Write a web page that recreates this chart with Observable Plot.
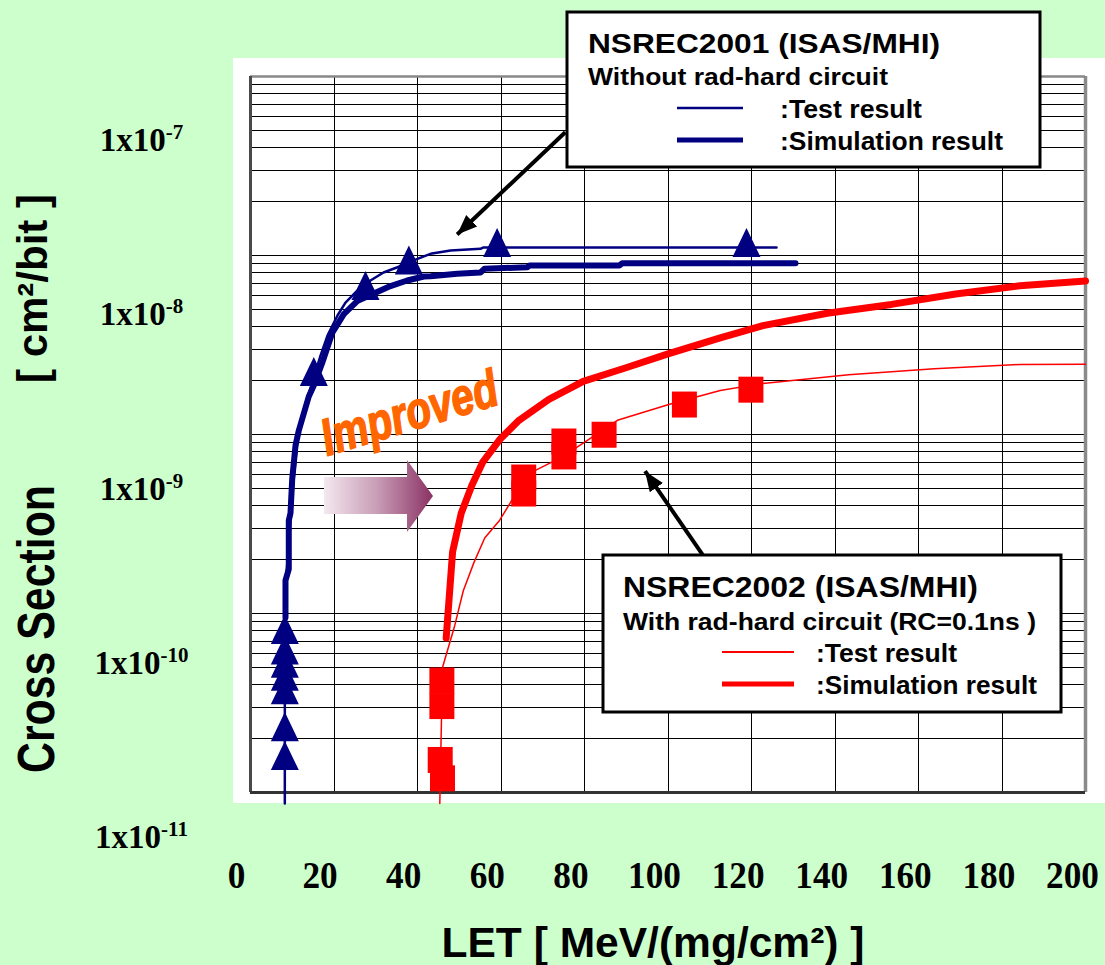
<!DOCTYPE html>
<html>
<head>
<meta charset="utf-8">
<script src="https://cdn.jsdelivr.net/npm/d3@7"></script>
<script src="https://cdn.jsdelivr.net/npm/@observablehq/plot@0.6"></script>
<style>
html, body { margin: 0; padding: 0; background: #ccffcc; }
#wrap { position: relative; width: 1105px; height: 965px; overflow: hidden; background: #ccffcc; }
#panel { position: absolute; left: 233px; top: 58px; width: 872px; height: 745px; background: #ffffff; }
.layer { position: absolute; left: 0; top: 0; }
#decor text { font-family: "Liberation Sans", Arial, sans-serif; font-weight: bold; fill: #000; }
</style>
</head>
<body>
<div id="wrap">
  <div id="panel"></div>
  <div id="chart" class="layer"></div>
  <div id="ticks" class="layer"></div>
  <svg id="decor" class="layer" width="1105" height="965" xmlns="http://www.w3.org/2000/svg">
    <defs>
      <linearGradient id="grad" x1="0" x2="1" y1="0" y2="0">
        <stop offset="0" stop-color="#f4e8ef"/>
        <stop offset="0.5" stop-color="#c79ab4"/>
        <stop offset="1" stop-color="#8a3264"/>
      </linearGradient>
    </defs>
    <!-- gradient block arrow -->
    <polygon points="324,477 407,477 407,460 433,496 407,532 407,514 324,514" fill="url(#grad)"/>
    <!-- Improved -->
    <text transform="translate(327,456) rotate(-16.7)" font-size="52" font-style="italic"
          style="fill:#ff6600;stroke:#ff6600;stroke-width:1.6;stroke-linejoin:round" textLength="182" lengthAdjust="spacingAndGlyphs">Improved</text>
    <!-- y title -->
    <text transform="translate(54,773) rotate(-90)" font-size="52" textLength="288" lengthAdjust="spacingAndGlyphs">Cross Section</text>
    <text transform="translate(47,383) rotate(-90)" font-size="42" textLength="189" lengthAdjust="spacingAndGlyphs">[ cm²/bit ]</text>
    <!-- x title -->
    <text x="653" y="957" text-anchor="middle" font-size="42" textLength="423" lengthAdjust="spacingAndGlyphs">LET [ MeV/(mg/cm²) ]</text>
    <!-- legend box 1 -->
    <rect x="567" y="12" width="473" height="155" fill="#fff" stroke="#000" stroke-width="3"/>
    <text x="588" y="53" font-size="28" textLength="352" lengthAdjust="spacingAndGlyphs">NSREC2001 (ISAS/MHI)</text>
    <text x="588" y="85" font-size="23" textLength="300" lengthAdjust="spacingAndGlyphs">Without rad-hard circuit</text>
    <line x1="677" x2="743" y1="108" y2="108" stroke="#000080" stroke-width="2.5"/>
    <text x="780" y="118" font-size="26" textLength="142" lengthAdjust="spacingAndGlyphs">:Test result</text>
    <line x1="677" x2="743" y1="140" y2="140" stroke="#000080" stroke-width="5"/>
    <text x="780" y="150" font-size="26" textLength="223" lengthAdjust="spacingAndGlyphs">:Simulation result</text>
    <!-- legend box 2 -->
    <rect x="603" y="555" width="458" height="157" fill="#fff" stroke="#000" stroke-width="3"/>
    <text x="623" y="597" font-size="30" textLength="355" lengthAdjust="spacingAndGlyphs">NSREC2002 (ISAS/MHI)</text>
    <text x="623" y="630" font-size="24" textLength="413" lengthAdjust="spacingAndGlyphs">With rad-hard circuit (RC=0.1ns )</text>
    <line x1="722" x2="794" y1="652" y2="652" stroke="#ff0000" stroke-width="2"/>
    <text x="816" y="662" font-size="26" textLength="141" lengthAdjust="spacingAndGlyphs">:Test result</text>
    <line x1="722" x2="794" y1="684" y2="684" stroke="#ff0000" stroke-width="5"/>
    <text x="816" y="694" font-size="26" textLength="221" lengthAdjust="spacingAndGlyphs">:Simulation result</text>
  </svg>
</div>
<script>
// ---------- axis ticks ----------
const xTicks = [0, 20, 40, 60, 80, 100, 120, 140, 160, 180, 200];
const yTicks = [1e-7, 1e-8, 1e-9, 1e-10, 1e-11];

// ---------- NSREC2001 (without rad-hard circuit) ----------
// Test result (thin line)
const blueTestLET = [8.22, 8.22, 8.38, 8.86, 9.58, 10.30, 11.26, 12.69, 15.09, 16.77, 18.44, 20.84, 22.75, 25.63, 28.74, 31.86, 35.21, 40.00, 43.11, 47.90, 55.09, 55.81, 125.99];
const blueTestCS  = [8.68e-12, 9.02e-11, 1.43e-10, 1.98e-10, 3.31e-10, 5.53e-10, 9.26e-10, 1.36e-9, 2.06e-9, 2.76e-9, 3.57e-9, 4.62e-9, 5.46e-9, 6.38e-9, 7.25e-9, 8.04e-9, 8.60e-9, 9.58e-9, 1.022e-8, 1.066e-8, 1.09e-8, 1.11e-8, 1.11e-8];
// Test points (triangles)
const blueTestPtLET = [8.22, 8.22, 8.22, 8.22, 8.22, 8.22, 8.22, 15.16, 27.54, 37.93, 59.07, 118.8];
const blueTestPtCS  = [1.51e-11, 2.19e-11, 3.52e-11, 4.19e-11, 4.96e-11, 5.88e-11, 7.66e-11, 2.11e-9, 6.38e-9, 8.86e-9, 1.11e-8, 1.11e-8];
// Simulation result (thick line)
const blueSimLET = [8.38, 8.38, 9.17, 9.17, 9.58, 9.99, 10.78, 11.57, 13.96, 15.16, 17.17, 19.57, 22.35, 25.56, 29.53, 33.53, 37.53, 41.51, 43.11, 49.51, 55.09, 56.05, 66.28, 66.83, 88.38, 89.0, 130.54];
const blueSimCS  = [9.50e-11, 1.53e-10, 1.77e-10, 3.31e-10, 3.64e-10, 5.63e-10, 8.68e-10, 1.053e-9, 1.63e-9, 1.88e-9, 2.51e-9, 3.69e-9, 4.70e-9, 5.56e-9, 6.14e-9, 6.75e-9, 7.25e-9, 7.63e-9, 7.65e-9, 7.90e-9, 8.04e-9, 8.43e-9, 8.60e-9, 8.79e-9, 8.79e-9, 9.04e-9, 9.04e-9];

// ---------- NSREC2002 (with rad-hard circuit, RC=0.1ns) ----------
const redTestLET = [45.34, 45.99, 48.91, 50.97, 53.53, 56.10, 59.69, 62.75, 67.88, 74.56, 79.69, 87.88, 100.19, 112.50, 122.75, 143.26, 163.76, 184.26, 200];
const redTestCS  = [8.68e-12, 4.99e-11, 8.55e-11, 1.34e-10, 1.93e-10, 2.64e-10, 3.32e-10, 4.35e-10, 6.24e-10, 7.48e-10, 8.95e-10, 1.20e-9, 1.47e-9, 1.76e-9, 1.93e-9, 2.16e-9, 2.33e-9, 2.46e-9, 2.47e-9];
const redTestPtLET = [45.84, 45.84, 45.44, 45.99, 65.44, 65.44, 75.07, 75.07, 84.69, 103.93, 119.86];
const redTestPtCS  = [4.22e-11, 3.04e-11, 1.52e-11, 1.20e-11, 5.75e-10, 4.68e-10, 9.14e-10, 7.54e-10, 9.97e-10, 1.47e-9, 1.78e-9];
const redSimLET = [46.87, 48.41, 50.47, 53.03, 55.59, 59.69, 64.31, 71.47, 79.69, 89.94, 100.19, 112.50, 122.75, 138.13, 153.51, 168.89, 184.26, 200];
const redSimCS  = [7.30e-11, 2.21e-10, 3.63e-10, 5.21e-10, 6.98e-10, 9.37e-10, 1.20e-9, 1.57e-9, 1.98e-9, 2.36e-9, 2.83e-9, 3.47e-9, 4.06e-9, 4.76e-9, 5.33e-9, 6.10e-9, 6.77e-9, 7.21e-9];

// ---------- annotation arrows (legend box -> curve) ----------
const arrowFromLET = [75.4, 108.4];
const arrowFromCS  = [4.88e-8, 2.11e-10];
const arrowToLET   = [49.5, 94.5];
const arrowToCS    = [1.31e-8, 6.24e-10];

// grid values
const xGrid = xTicks.filter(d => d > 0 && d < 200);
const yGrid = [];
for (const dec of [1e-11, 1e-10, 1e-9, 1e-8]) {
  for (let k = 1; k <= 9; k++) if (!(dec === 1e-11 && k === 1)) yGrid.push(k * dec);
}

const NAVY = "#000080", RED = "#ff0000";

const triSym = {
  draw(ctx, size) {
    const r = Math.sqrt(size / Math.PI);
    ctx.moveTo(0, -1.39 * r);
    ctx.lineTo(r, 0.69 * r);
    ctx.lineTo(-r, 0.69 * r);
    ctx.closePath();
  }
};
const rectSym = {
  draw(ctx, size) {
    const r = Math.sqrt(size / Math.PI);
    ctx.moveTo(-r, -1.04 * r);
    ctx.lineTo(r, -1.04 * r);
    ctx.lineTo(r, 1.04 * r);
    ctx.lineTo(-r, 1.04 * r);
    ctx.closePath();
  }
};

function filledArrow(color) {
  const m = d3.create("svg:marker")
    .attr("viewBox", "-10 -5 10 10")
    .attr("markerWidth", 5).attr("markerHeight", 5)
    .attr("orient", "auto")
    .attr("refX", 0).attr("refY", 0)
    .attr("fill", color).attr("stroke", "none");
  m.append("path").attr("d", "M-10,-4L0,0L-10,4Z");
  return m.node();
}

function buildChart(marker) {
  return Plot.plot({
    width: 1105, height: 965,
    marginLeft: 250, marginRight: 20, marginTop: 76, marginBottom: 173,
    x: {domain: [0, 200], axis: null},
    y: {type: "log", domain: [1e-11, 1e-7], axis: null},
    style: {background: "transparent", overflow: "visible"},
    marks: [
      Plot.ruleX(xGrid, {stroke: "#000", strokeWidth: 1, shapeRendering: "crispEdges"}),
      Plot.ruleY(yGrid, {stroke: "#000", strokeWidth: 1, shapeRendering: "crispEdges"}),
      Plot.ruleY([1e-7], {stroke: "#888", strokeWidth: 2.5}),
      Plot.ruleX([200], {stroke: "#8a8a8a", strokeWidth: 3.5}),
      Plot.ruleX([0], {stroke: "#4a4a4a", strokeWidth: 3}),
      Plot.ruleY([1e-11], {stroke: "#333", strokeWidth: 3}),
      Plot.line(blueTestLET, {x: blueTestLET, y: blueTestCS, stroke: NAVY, strokeWidth: 2.5, strokeLinejoin: "round"}),
      Plot.line(blueSimLET, {x: blueSimLET, y: blueSimCS, stroke: NAVY, strokeWidth: 6, strokeLinejoin: "round", strokeLinecap: "round"}),
      Plot.line(redTestLET, {x: redTestLET, y: redTestCS, stroke: RED, strokeWidth: 1.5, strokeLinejoin: "round"}),
      Plot.line(redSimLET, {x: redSimLET, y: redSimCS, stroke: RED, strokeWidth: 7, strokeLinejoin: "round", strokeLinecap: "round"}),
      Plot.dot(blueTestPtLET, {x: blueTestPtLET, y: blueTestPtCS, symbol: triSym, r: 14, fill: NAVY}),
      Plot.dot(redTestPtLET, {x: redTestPtLET, y: redTestPtCS, symbol: rectSym, r: 12.5, fill: RED}),
      Plot.link(arrowFromLET, {x1: arrowFromLET, y1: arrowFromCS, x2: arrowToLET, y2: arrowToCS,
        stroke: "#000", strokeWidth: 4, markerEnd: marker})
    ]
  });
}

let chart;
try { chart = buildChart(filledArrow); } catch (e) { chart = buildChart("arrow"); }
document.getElementById("chart").appendChild(chart);

// tick labels (placed as in the original slide)
const ticks = Plot.plot({
  width: 1105, height: 965,
  marginLeft: 236, marginRight: 33, marginTop: 140, marginBottom: 128,
  x: {domain: [0, 200], axis: null},
  y: {type: "log", domain: [1e-11, 1e-7], axis: null},
  style: {background: "transparent", overflow: "visible"},
  marks: [
    Plot.text(xTicks, {x: d => d, frameAnchor: "bottom", dy: 38, text: d => String(d),
      fontFamily: "Liberation Serif", fontWeight: "bold", fontSize: 38, fill: "#000", lineAnchor: "middle", textAnchor: "middle"}),
    Plot.text(yTicks, {y: d => d, frameAnchor: "left", dx: -95, text: d => "1x10^" + Math.round(Math.log10(d)),
      fontFamily: "Liberation Serif", fontWeight: "bold", fontSize: 33, fill: "#000", lineAnchor: "middle", textAnchor: "middle"})
  ]
});
const NS = "http://www.w3.org/2000/svg";
ticks.querySelectorAll("text").forEach(t => {
  const s = t.textContent;
  if (s.includes("^")) {
    const [b, e] = s.split("^");
    t.textContent = "";
    const t1 = document.createElementNS(NS, "tspan");
    t1.textContent = b;
    const t2 = document.createElementNS(NS, "tspan");
    t2.setAttribute("dy", "-12");
    t2.setAttribute("font-size", "21");
    t2.textContent = e;
    t.appendChild(t1); t.appendChild(t2);
  } else {
    t.setAttribute("textLength", String(s.length * 17.6));
    t.setAttribute("lengthAdjust", "spacingAndGlyphs");
  }
});
document.getElementById("ticks").appendChild(ticks);
</script>
</body>
</html>
